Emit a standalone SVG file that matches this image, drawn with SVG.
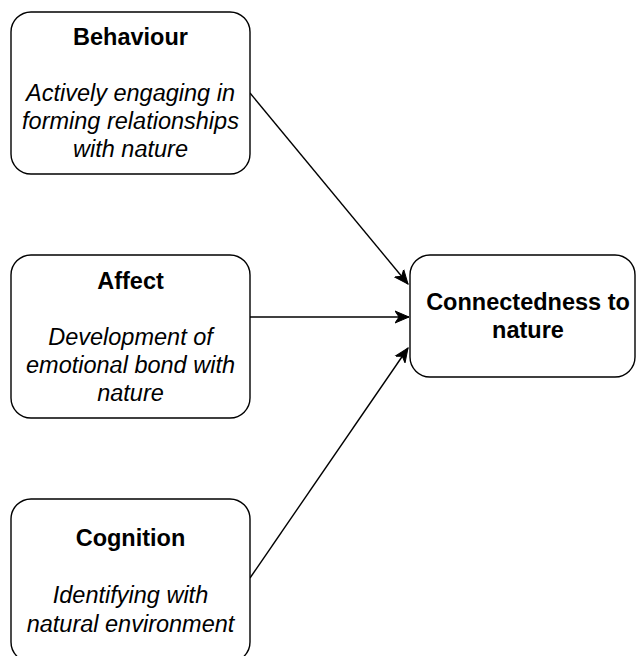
<svg xmlns="http://www.w3.org/2000/svg" width="636" height="656" viewBox="0 0 636 656">
  <style>
    .box { fill: #ffffff; stroke: #000000; stroke-width: 1.4; }
    .title { font-family: "Liberation Sans", Arial, Helvetica, sans-serif; font-size: 23.5px; font-weight: bold; fill: #000000; text-anchor: middle; }
    .desc { font-family: "Liberation Sans", Arial, Helvetica, sans-serif; font-size: 23.5px; font-style: italic; fill: #000000; text-anchor: middle; }
    .edge { fill: none; stroke: #000000; stroke-width: 1.4; }
  </style>
  <defs>
    <marker id="arrow" markerUnits="userSpaceOnUse" markerWidth="16" markerHeight="14" viewBox="0 0 16 14" refX="14" refY="7" orient="auto">
      <path d="M0,1 L14,7 L0,13 L4,7 Z" fill="#000000" stroke="#000000" stroke-width="1"/>
    </marker>
  </defs>

  <g id="connectors">
    <line class="edge" x1="250" y1="93" x2="408" y2="284" marker-end="url(#arrow)"/>
    <line class="edge" x1="250" y1="317" x2="409" y2="317" marker-end="url(#arrow)"/>
    <line class="edge" x1="250" y1="578" x2="408" y2="348" marker-end="url(#arrow)"/>
  </g>

  <g id="behaviour">
    <rect class="box" x="11" y="12" width="239" height="162" rx="20" ry="20"/>
    <text class="title" x="130.5" y="45">Behaviour</text>
    <text class="desc" x="130.5" y="101">Actively engaging in</text>
    <text class="desc" x="130.5" y="129">forming relationships</text>
    <text class="desc" x="130.5" y="157">with nature</text>
  </g>

  <g id="affect">
    <rect class="box" x="11" y="255" width="239" height="163" rx="20" ry="20"/>
    <text class="title" x="130.5" y="289">Affect</text>
    <text class="desc" x="130.5" y="345">Development of</text>
    <text class="desc" x="130.5" y="373">emotional bond with</text>
    <text class="desc" x="130.5" y="401">nature</text>
  </g>

  <g id="cognition">
    <rect class="box" x="11" y="499" width="239" height="163" rx="20" ry="20"/>
    <text class="title" x="130.5" y="546">Cognition</text>
    <text class="desc" x="130.5" y="603">Identifying with</text>
    <text class="desc" x="130.5" y="632">natural environment</text>
  </g>

  <g id="connectedness">
    <rect class="box" x="410" y="255" width="225" height="122" rx="20" ry="20"/>
    <text class="title" x="528" y="310">Connectedness to</text>
    <text class="title" x="528" y="338">nature</text>
  </g>
</svg>
